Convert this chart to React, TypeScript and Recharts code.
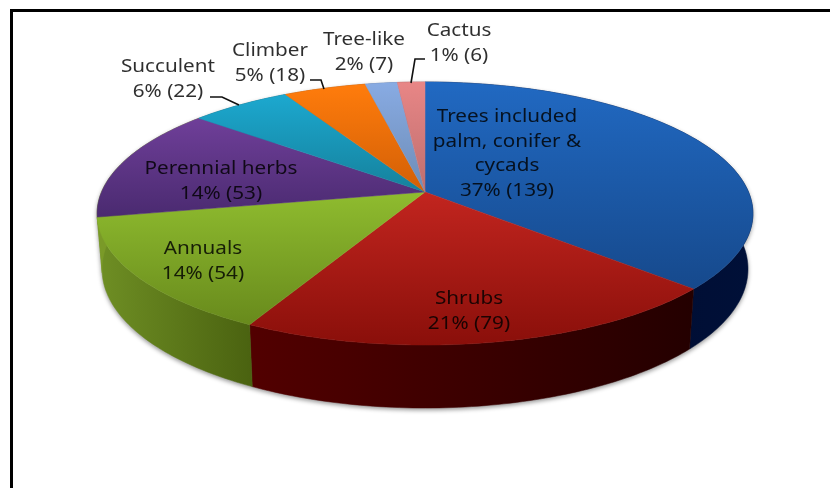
import { Pie, PieChart } from "recharts"

const categories = ["Trees", "Shrubs", "Annuals", "Perennial herbs", "Succulent", "Climber", "Tree-like", "Cactus"]
const counts = [139, 79, 54, 53, 22, 18, 7, 6]
const percentLabels = ["37%", "21%", "14%", "14%", "6%", "5%", "2%", "1%"]
const nameLines = [
  ["Trees included", "palm, conifer &", "cycads"],
  ["Shrubs"],
  ["Annuals"],
  ["Perennial herbs"],
  ["Succulent"],
  ["Climber"],
  ["Tree-like"],
  ["Cactus"],
]

const topColors = [
  ["#2169c2", "#16498c"],
  ["#c2251f", "#8a0f0a"],
  ["#8fbc2f", "#688a1c"],
  ["#6f3f99", "#4a2a70"],
  ["#1ca8cf", "#15819c"],
  ["#ff7c0c", "#d25f06"],
  ["#88abe3", "#6d8cb6"],
  ["#e88686", "#bd6e6e"],
]
const wallColors = [
  ["#00082a", "#001038"],
  ["#520000", "#240000"],
  ["#6f8f24", "#4a6210"],
  ["#7a9a28", "#7a9a28"],
  ["#0c5a70", "#0c5a70"],
  ["#a04a04", "#a04a04"],
  ["#5a7096", "#5a7096"],
  ["#8a4c4c", "#8a4c4c"],
]

// centre x and first baseline of every label block
const labelX = [507, 469, 203, 221, 168, 270, 364, 459]
const labelY = [122, 304, 254, 174, 72, 56, 45, 36]
const lineGap = 24.5
const textStretch = 1.15
const leaders: Record<number, string> = {
  4: "210,97 222,97 239,105",
  5: "310,80 321,80 324,89",
  7: "425,59 415,59 411,83",
}

const data = categories.map((name, i) => ({ name, value: counts[i] }))

// the disc is seen in perspective: a circle goes through a projective map
const TILT = -0.1635
const SQUASH = 0.3957

function project(cx: number, cy: number, r: number, deg: number) {
  const rad = (deg * Math.PI) / 180
  const u = Math.cos(rad)
  const v = -Math.sin(rad)
  const d = 1 + TILT * v
  return { x: cx + (r * u) / d, y: cy + (r * SQUASH * v) / d, v }
}

function rim(cx: number, cy: number, r: number, from: number, to: number) {
  const steps = Math.max(2, Math.ceil(Math.abs(to - from)))
  const pts = []
  for (let i = 0; i <= steps; i++) pts.push(project(cx, cy, r, from + ((to - from) * i) / steps))
  return pts
}

const toPath = (pts: { x: number; y: number }[]) =>
  "M" + pts.map((p) => p.x.toFixed(2) + " " + p.y.toFixed(2)).join("L") + "Z"

function TopFace(props: any) {
  const { cx, cy, outerRadius, startAngle, endAngle, index } = props
  const pts = [{ x: cx, y: cy }, ...rim(cx, cy, outerRadius, startAngle, endAngle)]
  return <path d={toPath(pts)} fill={`url(#top-${index})`} stroke={`url(#top-${index})`} strokeWidth={0.5} />
}

function WallFace(props: any) {
  const { cx, cy, outerRadius, startAngle, endAngle, index } = props
  const upper = rim(cx, cy, outerRadius, startAngle, endAngle)
  const lower = upper
    .map((p) => ({ x: cx + (p.x - cx) * 0.985, y: p.y + 54 + 9 * p.v }))
    .reverse()
  return <path d={toPath([...upper, ...lower])} fill={`url(#wall-${index})`} stroke={`url(#wall-${index})`} strokeWidth={0.5} />
}

function renderLabel(props: any) {
  const i = props.index
  const lines = [...nameLines[i], `${percentLabels[i]} (${counts[i]})`]
  return (
    <g key={i}>
      {leaders[i] && <polyline points={leaders[i]} fill="none" stroke="#111" strokeWidth={1.6} />}
      {lines.map((line, n) => (
        <text
          key={n}
          transform={`translate(${labelX[i]} ${labelY[i] + n * lineGap}) scale(${textStretch} 1)`}
          textAnchor="middle"
          fontFamily="'Noto Sans', sans-serif"
          fontSize={18}
          fill="#000"
          fillOpacity={0.82}
        >
          {line}
        </text>
      ))}
    </g>
  )
}

export default function App() {
  return (
    <div style={{ position: "absolute", left: 0, top: 0, width: 830, height: 488, overflow: "hidden", background: "#fff", filter: "blur(0.4px)" }}>
      <style>{`.pie-walls { filter: drop-shadow(0 2px 2px rgba(0,0,0,0.4)); }`}</style>
      <div
        style={{
          position: "absolute",
          left: 10,
          top: 9,
          width: 830,
          height: 488,
          borderLeft: "3px solid #000",
          borderTop: "3px solid #000",
        }}
      />
      <div style={{ position: "absolute", left: 0, top: 0 }}>
        <PieChart width={830} height={488} margin={{ top: 0, right: 0, bottom: 0, left: 0 }}>
          <defs>
            {topColors.map((c, i) => (
              <linearGradient key={i} id={`top-${i}`} x1="0" y1="0" x2="0" y2="1">
                <stop offset="0" stopColor={c[0]} />
                <stop offset="1" stopColor={c[1]} />
              </linearGradient>
            ))}
            {wallColors.map((c, i) => (
              <linearGradient key={i} id={`wall-${i}`} x1="0" y1="0" x2="1" y2="0">
                <stop offset="0" stopColor={c[0]} />
                <stop offset="1" stopColor={c[1]} />
              </linearGradient>
            ))}
          </defs>
          <Pie
            className="pie-walls"
            data={data}
            dataKey="value"
            nameKey="name"
            cx={425}
            cy={192}
            outerRadius={323.5}
            startAngle={90}
            endAngle={-270}
            stroke="none"
            shape={WallFace}
            isAnimationActive={false}
          />
          <Pie
            data={data}
            dataKey="value"
            nameKey="name"
            cx={425}
            cy={192}
            outerRadius={323.5}
            startAngle={90}
            endAngle={-270}
            stroke="none"
            shape={TopFace}
            label={renderLabel}
            labelLine={false}
            isAnimationActive={false}
          />
        </PieChart>
      </div>
    </div>
  )
}
